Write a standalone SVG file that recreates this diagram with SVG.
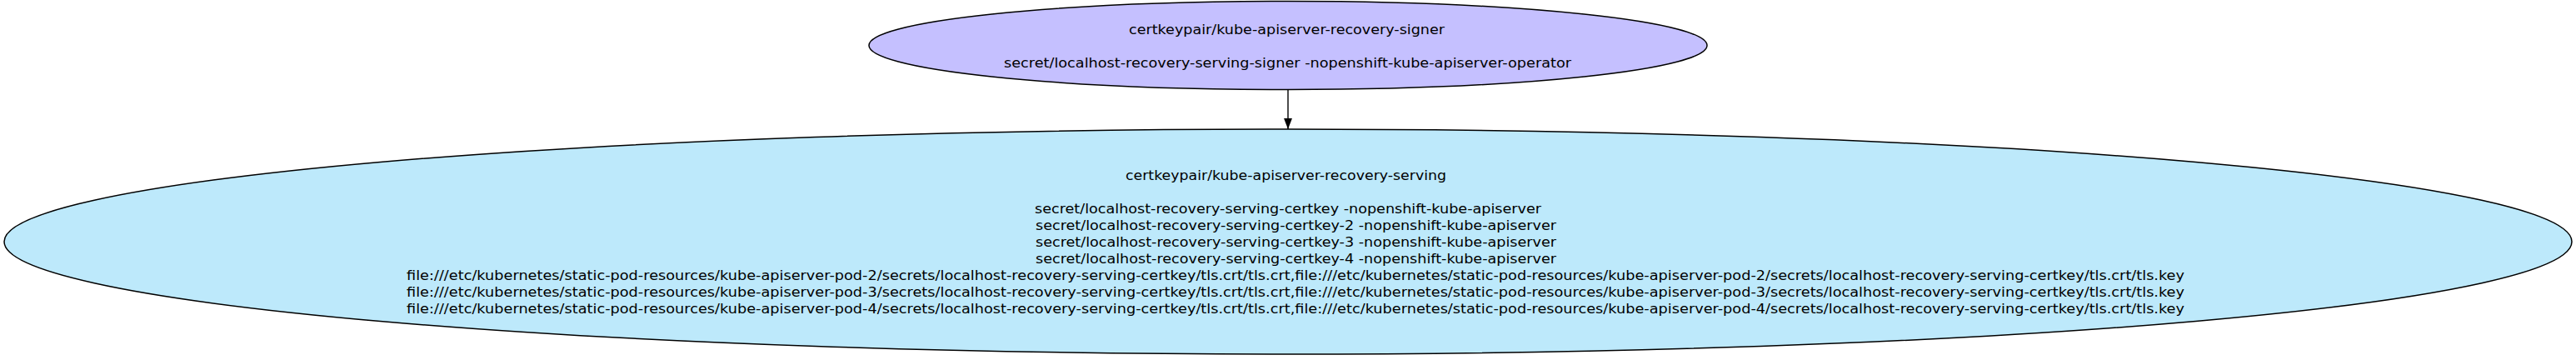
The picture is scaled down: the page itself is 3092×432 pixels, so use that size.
<svg xmlns="http://www.w3.org/2000/svg" width="3092" height="432" viewBox="0 0 3092 432">
<defs>
<style>
.node ellipse{stroke:#000;stroke-width:1.5}
text{font-family:"DejaVu Sans","Noto Sans",sans-serif;font-size:16px;fill:#000}
.edge line{stroke:#000;stroke-width:1.4}
</style>
<marker id="ah" viewBox="0 0 10 10" refX="10" refY="5" markerWidth="13" markerHeight="13" markerUnits="userSpaceOnUse" orient="auto">
<path d="M0,1.2 L10,5 L0,8.8 Z" fill="#000"/>
</marker>
</defs>
<rect width="3092" height="432" fill="#fff"/>
<g id="connectors" class="edge">
<line x1="1546" y1="107" x2="1546" y2="155" marker-end="url(#ah)"/>
</g>
<g id="signer" class="node">
<ellipse cx="1546" cy="54.5" rx="503" ry="53" fill="#c5c0ff"/>
<text x="1355" y="40.5" textLength="379" lengthAdjust="spacingAndGlyphs">certkeypair/kube-apiserver-recovery-signer</text>
<text x="1205" y="80.5" textLength="681" lengthAdjust="spacingAndGlyphs">secret/localhost-recovery-serving-signer -nopenshift-kube-apiserver-operator</text>
</g>
<g id="serving" class="node">
<ellipse cx="1546" cy="290" rx="1541" ry="135" fill="#bde9fb"/>
<text x="1351" y="216" textLength="385" lengthAdjust="spacingAndGlyphs">certkeypair/kube-apiserver-recovery-serving</text>
<text x="1242" y="256" textLength="608" lengthAdjust="spacingAndGlyphs">secret/localhost-recovery-serving-certkey -nopenshift-kube-apiserver</text>
<text x="1243" y="276" textLength="625" lengthAdjust="spacingAndGlyphs">secret/localhost-recovery-serving-certkey-2 -nopenshift-kube-apiserver</text>
<text x="1243" y="296" textLength="625" lengthAdjust="spacingAndGlyphs">secret/localhost-recovery-serving-certkey-3 -nopenshift-kube-apiserver</text>
<text x="1243" y="316" textLength="625" lengthAdjust="spacingAndGlyphs">secret/localhost-recovery-serving-certkey-4 -nopenshift-kube-apiserver</text>
<text x="488" y="336" textLength="2134" lengthAdjust="spacingAndGlyphs">file:///etc/kubernetes/static-pod-resources/kube-apiserver-pod-2/secrets/localhost-recovery-serving-certkey/tls.crt/tls.crt,file:///etc/kubernetes/static-pod-resources/kube-apiserver-pod-2/secrets/localhost-recovery-serving-certkey/tls.crt/tls.key</text>
<text x="488" y="356" textLength="2134" lengthAdjust="spacingAndGlyphs">file:///etc/kubernetes/static-pod-resources/kube-apiserver-pod-3/secrets/localhost-recovery-serving-certkey/tls.crt/tls.crt,file:///etc/kubernetes/static-pod-resources/kube-apiserver-pod-3/secrets/localhost-recovery-serving-certkey/tls.crt/tls.key</text>
<text x="488" y="376" textLength="2134" lengthAdjust="spacingAndGlyphs">file:///etc/kubernetes/static-pod-resources/kube-apiserver-pod-4/secrets/localhost-recovery-serving-certkey/tls.crt/tls.crt,file:///etc/kubernetes/static-pod-resources/kube-apiserver-pod-4/secrets/localhost-recovery-serving-certkey/tls.crt/tls.key</text>
</g>
</svg>
